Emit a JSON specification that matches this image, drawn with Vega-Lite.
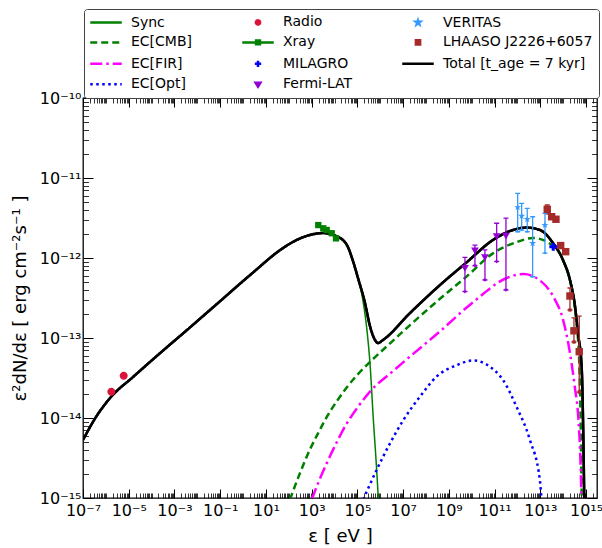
{
  "$schema": "https://vega.github.io/schema/vega-lite/v6.json",
  "width": 514,
  "height": 400,
  "autosize": {"type": "none"},
  "padding": {"left": 83, "top": 98, "right": 5, "bottom": 50},
  "background": "white",
  "config": {
    "font": "DejaVu Sans",
    "view": {"stroke": "black", "strokeWidth": 1.3},
    "axis": {"labelFont": "DejaVu Sans", "titleFont": "DejaVu Sans", "tickColor": "black", "labelColor": "black", "titleColor": "black", "grid": false, "domain": false, "titleFontWeight": "normal", "labelFlush": false, "labelOverlap": false}
  },
  "datasets": {
    "curves": [
      {"series": "Total [t_age = 7 kyr]", "E": 1e-7, "F": 5.31e-15},
      {"series": "Total [t_age = 7 kyr]", "E": 3.70e-7, "F": 1.03e-14},
      {"series": "Total [t_age = 7 kyr]", "E": 1.67e-6, "F": 1.83e-14},
      {"series": "Total [t_age = 7 kyr]", "E": 1.53e-5, "F": 3.25e-14},
      {"series": "Total [t_age = 7 kyr]", "E": 4.26e-4, "F": 7.50e-14},
      {"series": "Total [t_age = 7 kyr]", "E": 2.36e-3, "F": 1.14e-13},
      {"series": "Total [t_age = 7 kyr]", "E": 6.53e-2, "F": 2.60e-13},
      {"series": "Total [t_age = 7 kyr]", "E": 2.0, "F": 6.10e-13},
      {"series": "Total [t_age = 7 kyr]", "E": 55.6, "F": 1.33e-12},
      {"series": "Total [t_age = 7 kyr]", "E": 152, "F": 1.59e-12},
      {"series": "Total [t_age = 7 kyr]", "E": 843, "F": 1.94e-12},
      {"series": "Total [t_age = 7 kyr]", "E": 3120, "F": 2.05e-12},
      {"series": "Total [t_age = 7 kyr]", "E": 1.28e4, "F": 1.86e-12},
      {"series": "Total [t_age = 7 kyr]", "E": 3.49e4, "F": 1.45e-12},
      {"series": "Total [t_age = 7 kyr]", "E": 6.40e4, "F": 9.16e-13},
      {"series": "Total [t_age = 7 kyr]", "E": 1.06e5, "F": 5.62e-13},
      {"series": "Total [t_age = 7 kyr]", "E": 2.14e5, "F": 2.74e-13},
      {"series": "Total [t_age = 7 kyr]", "E": 3.54e5, "F": 1.41e-13},
      {"series": "Total [t_age = 7 kyr]", "E": 5.86e5, "F": 9.44e-14},
      {"series": "Total [t_age = 7 kyr]", "E": 7.93e5, "F": 8.65e-14},
      {"series": "Total [t_age = 7 kyr]", "E": 1.31e6, "F": 9.44e-14},
      {"series": "Total [t_age = 7 kyr]", "E": 1.99e7, "F": 2.05e-13},
      {"series": "Total [t_age = 7 kyr]", "E": 4.07e8, "F": 4.59e-13},
      {"series": "Total [t_age = 7 kyr]", "E": 6.18e9, "F": 8.91e-13},
      {"series": "Total [t_age = 7 kyr]", "E": 8.47e10, "F": 1.68e-12},
      {"series": "Total [t_age = 7 kyr]", "E": 6.34e11, "F": 2.24e-12},
      {"series": "Total [t_age = 7 kyr]", "E": 2.59e12, "F": 2.40e-12},
      {"series": "Total [t_age = 7 kyr]", "E": 9.61e12, "F": 2.24e-12},
      {"series": "Total [t_age = 7 kyr]", "E": 3.56e13, "F": 1.54e-12},
      {"series": "Total [t_age = 7 kyr]", "E": 9.75e13, "F": 9.44e-13},
      {"series": "Total [t_age = 7 kyr]", "E": 1.97e14, "F": 5.31e-13},
      {"series": "Total [t_age = 7 kyr]", "E": 3.27e14, "F": 2.51e-13},
      {"series": "Total [t_age = 7 kyr]", "E": 4.42e14, "F": 1.15e-13},
      {"series": "Total [t_age = 7 kyr]", "E": 6.40e14, "F": 4.34e-14},
      {"series": "Total [t_age = 7 kyr]", "E": 7.52e14, "F": 6.49e-15},
      {"series": "Total [t_age = 7 kyr]", "E": 8.32e14, "F": 9.44e-16},

      {"series": "Sync", "E": 1e-7, "F": 5.31e-15},
      {"series": "Sync", "E": 3.70e-7, "F": 1.03e-14},
      {"series": "Sync", "E": 1.67e-6, "F": 1.83e-14},
      {"series": "Sync", "E": 1.53e-5, "F": 3.25e-14},
      {"series": "Sync", "E": 4.26e-4, "F": 7.50e-14},
      {"series": "Sync", "E": 2.36e-3, "F": 1.14e-13},
      {"series": "Sync", "E": 6.53e-2, "F": 2.60e-13},
      {"series": "Sync", "E": 2.0, "F": 6.10e-13},
      {"series": "Sync", "E": 55.6, "F": 1.33e-12},
      {"series": "Sync", "E": 152, "F": 1.59e-12},
      {"series": "Sync", "E": 843, "F": 1.94e-12},
      {"series": "Sync", "E": 3120, "F": 2.05e-12},
      {"series": "Sync", "E": 1.28e4, "F": 1.86e-12},
      {"series": "Sync", "E": 3.49e4, "F": 1.45e-12},
      {"series": "Sync", "E": 6.40e4, "F": 9.16e-13},
      {"series": "Sync", "E": 1.06e5, "F": 5.62e-13},
      {"series": "Sync", "E": 1.58e5, "F": 3.45e-13},
      {"series": "Sync", "E": 2.14e5, "F": 2.0e-13},
      {"series": "Sync", "E": 2.75e5, "F": 1.09e-13},
      {"series": "Sync", "E": 3.54e5, "F": 4.87e-14},
      {"series": "Sync", "E": 4.93e5, "F": 1.0e-14},
      {"series": "Sync", "E": 6.95e5, "F": 2.24e-15},
      {"series": "Sync", "E": 8.34e5, "F": 9.1e-16},

      {"series": "EC[CMB]", "E": 112, "F": 9.55e-16},
      {"series": "EC[CMB]", "E": 316, "F": 2.09e-15},
      {"series": "EC[CMB]", "E": 851, "F": 4.07e-15},
      {"series": "EC[CMB]", "E": 1995, "F": 6.61e-15},
      {"series": "EC[CMB]", "E": 4467, "F": 1.02e-14},
      {"series": "EC[CMB]", "E": 1.26e4, "F": 1.62e-14},
      {"series": "EC[CMB]", "E": 3.39e4, "F": 2.40e-14},
      {"series": "EC[CMB]", "E": 1.0e5, "F": 3.47e-14},
      {"series": "EC[CMB]", "E": 3.55e5, "F": 5.01e-14},
      {"series": "EC[CMB]", "E": 3.72e6, "F": 9.33e-14},
      {"series": "EC[CMB]", "E": 2.0e7, "F": 1.45e-13},
      {"series": "EC[CMB]", "E": 4.07e8, "F": 3.09e-13},
      {"series": "EC[CMB]", "E": 6.03e9, "F": 5.89e-13},
      {"series": "EC[CMB]", "E": 8.71e10, "F": 1.15e-12},
      {"series": "EC[CMB]", "E": 9.12e11, "F": 1.58e-12},
      {"series": "EC[CMB]", "E": 4.90e12, "F": 1.78e-12},
      {"series": "EC[CMB]", "E": 2.63e13, "F": 1.51e-12},
      {"series": "EC[CMB]", "E": 1.0e14, "F": 9.33e-13},
      {"series": "EC[CMB]", "E": 2.34e14, "F": 4.17e-13},
      {"series": "EC[CMB]", "E": 3.80e14, "F": 1.55e-13},
      {"series": "EC[CMB]", "E": 5.01e14, "F": 5.01e-14},
      {"series": "EC[CMB]", "E": 5.75e14, "F": 1.0e-14},
      {"series": "EC[CMB]", "E": 6.17e14, "F": 2.51e-15},
      {"series": "EC[CMB]", "E": 6.46e14, "F": 9.55e-16},

      {"series": "EC[FIR]", "E": 1000, "F": 9.55e-16},
      {"series": "EC[FIR]", "E": 1995, "F": 1.58e-15},
      {"series": "EC[FIR]", "E": 4467, "F": 2.69e-15},
      {"series": "EC[FIR]", "E": 1.26e4, "F": 5.01e-15},
      {"series": "EC[FIR]", "E": 3.39e4, "F": 8.51e-15},
      {"series": "EC[FIR]", "E": 1.0e5, "F": 1.35e-14},
      {"series": "EC[FIR]", "E": 3.55e5, "F": 2.14e-14},
      {"series": "EC[FIR]", "E": 3.72e6, "F": 3.89e-14},
      {"series": "EC[FIR]", "E": 1.26e7, "F": 5.25e-14},
      {"series": "EC[FIR]", "E": 3.55e8, "F": 1.17e-13},
      {"series": "EC[FIR]", "E": 1.17e10, "F": 2.82e-13},
      {"series": "EC[FIR]", "E": 3.39e11, "F": 5.62e-13},
      {"series": "EC[FIR]", "E": 1.82e12, "F": 6.31e-13},
      {"series": "EC[FIR]", "E": 9.55e12, "F": 5.25e-13},
      {"series": "EC[FIR]", "E": 3.63e13, "F": 3.31e-13},
      {"series": "EC[FIR]", "E": 1.0e14, "F": 1.66e-13},
      {"series": "EC[FIR]", "E": 1.95e14, "F": 6.61e-14},
      {"series": "EC[FIR]", "E": 3.16e14, "F": 2.51e-14},
      {"series": "EC[FIR]", "E": 4.57e14, "F": 1.0e-14},
      {"series": "EC[FIR]", "E": 5.62e14, "F": 3.16e-15},
      {"series": "EC[FIR]", "E": 6.31e14, "F": 9.55e-16},

      {"series": "EC[Opt]", "E": 1.78e5, "F": 9.55e-16},
      {"series": "EC[Opt]", "E": 6.92e5, "F": 2.24e-15},
      {"series": "EC[Opt]", "E": 2.63e6, "F": 4.79e-15},
      {"series": "EC[Opt]", "E": 1.0e7, "F": 9.33e-15},
      {"series": "EC[Opt]", "E": 5.5e7, "F": 1.86e-14},
      {"series": "EC[Opt]", "E": 2.95e8, "F": 3.31e-14},
      {"series": "EC[Opt]", "E": 2.19e9, "F": 4.57e-14},
      {"series": "EC[Opt]", "E": 1.17e10, "F": 5.25e-14},
      {"series": "EC[Opt]", "E": 6.31e10, "F": 4.37e-14},
      {"series": "EC[Opt]", "E": 2.40e11, "F": 2.95e-14},
      {"series": "EC[Opt]", "E": 9.12e11, "F": 1.38e-14},
      {"series": "EC[Opt]", "E": 3.55e12, "F": 5.25e-15},
      {"series": "EC[Opt]", "E": 9.55e12, "F": 1.66e-15},
      {"series": "EC[Opt]", "E": 1.12e13, "F": 9.55e-16}
    ],
    "pts": [
      {"series": "Radio", "E": 1.73e-6, "F": 2.13e-14},
      {"series": "Radio", "E": 6.03e-6, "F": 3.38e-14},
      {"series": "Xray", "E": 1945, "F": 2.58e-12},
      {"series": "Xray", "E": 3214, "F": 2.35e-12},
      {"series": "Xray", "E": 4529, "F": 2.24e-12},
      {"series": "Xray", "E": 7499, "F": 2.04e-12},
      {"series": "Xray", "E": 11560, "F": 1.76e-12},
      {"series": "Fermi-LAT", "E": 5.05e9, "F": 7.43e-13},
      {"series": "Fermi-LAT", "E": 1.38e10, "F": 1.23e-12},
      {"series": "Fermi-LAT", "E": 3.78e10, "F": 1.01e-12},
      {"series": "Fermi-LAT", "E": 1.23e11, "F": 1.85e-12},
      {"series": "Fermi-LAT", "E": 3.13e11, "F": 1.88e-12},
      {"series": "VERITAS", "E": 1.02e12, "F": 4.30e-12},
      {"series": "VERITAS", "E": 1.52e12, "F": 3.35e-12},
      {"series": "VERITAS", "E": 2.67e12, "F": 3.05e-12},
      {"series": "VERITAS", "E": 4.60e12, "F": 1.53e-12},
      {"series": "VERITAS", "E": 1.59e13, "F": 2.58e-12},
      {"series": "MILAGRO", "E": 3.66e13, "F": 1.38e-12},
      {"series": "LHAASO J2226+6057", "E": 2.00e13, "F": 4.06e-12},
      {"series": "LHAASO J2226+6057", "E": 3.12e13, "F": 3.28e-12},
      {"series": "LHAASO J2226+6057", "E": 4.81e13, "F": 3.05e-12},
      {"series": "LHAASO J2226+6057", "E": 7.73e13, "F": 1.43e-12},
      {"series": "LHAASO J2226+6057", "E": 1.28e14, "F": 1.20e-12},
      {"series": "LHAASO J2226+6057", "E": 1.97e14, "F": 3.35e-13},
      {"series": "LHAASO J2226+6057", "E": 2.95e14, "F": 1.23e-13},
      {"series": "LHAASO J2226+6057", "E": 5.02e14, "F": 6.74e-14}
    ],
    "errs": [
      {"series": "Fermi-LAT", "E": 5.05e9, "lo": 3.79e-13, "hi": 1.02e-12},
      {"series": "Fermi-LAT", "E": 1.38e10, "lo": 8.0e-13, "hi": 1.45e-12},
      {"series": "Fermi-LAT", "E": 3.78e10, "lo": 5.31e-13, "hi": 1.26e-12},
      {"series": "Fermi-LAT", "E": 1.23e11, "lo": 8.99e-13, "hi": 2.72e-12},
      {"series": "Fermi-LAT", "E": 3.13e11, "lo": 3.98e-13, "hi": 3.16e-12},
      {"series": "VERITAS", "E": 1.02e12, "lo": 2.13e-12, "hi": 6.44e-12},
      {"series": "VERITAS", "E": 1.52e12, "lo": 2.24e-12, "hi": 4.83e-12},
      {"series": "VERITAS", "E": 2.67e12, "lo": 2.13e-12, "hi": 4.18e-12},
      {"series": "VERITAS", "E": 4.60e12, "lo": 5.83e-13, "hi": 3.28e-12},
      {"series": "VERITAS", "E": 1.59e13, "lo": 1.15e-12, "hi": 3.62e-12},
      {"series": "LHAASO J2226+6057", "E": 2.00e13, "lo": 3.65e-12, "hi": 4.60e-12},
      {"series": "LHAASO J2226+6057", "E": 1.97e14, "lo": 2.24e-13, "hi": 4.22e-13},
      {"series": "LHAASO J2226+6057", "E": 2.95e14, "lo": 8.91e-14, "hi": 1.78e-13},
      {"series": "LHAASO J2226+6057", "E": 5.02e14, "lo": 2.11e-14, "hi": 1.88e-13}
    ]
  },
  "encoding": {
    "x": {"field": "E", "type": "quantitative", "scale": {"type": "log", "domain": [1e-7, 3e15], "nice": false}, "axis": null},
    "y": {"field": "F", "type": "quantitative", "scale": {"type": "log", "domain": [1e-15, 1e-10], "nice": false}, "axis": null},
    "color": {
      "field": "series", "type": "nominal",
      "scale": {
        "domain": ["Sync", "EC[CMB]", "EC[FIR]", "EC[Opt]", "Radio", "Xray", "MILAGRO", "Fermi-LAT", "VERITAS", "LHAASO J2226+6057", "Total [t_age = 7 kyr]"],
        "range": ["#008000", "#008000", "#ff00ff", "#0000ff", "#dc143c", "#008000", "#0000ff", "#9400d3", "#3399ff", "#a52a2a", "#000000"]
      },
      "legend": {
        "title": null, "orient": "none", "legendX": 1, "legendY": -89, "direction": "vertical", "columns": 3,
        "columnPadding": 44, "rowPadding": 4.4, "padding": 6, "strokeColor": "#444444", "fillColor": "white", "cornerRadius": 3,
        "labelFont": "DejaVu Sans", "labelFontSize": 14, "labelColor": "black", "labelLimit": 300,
        "symbolSize": 49, "symbolStrokeWidth": 2.5, "symbolOffset": 9, "labelOffset": 18
      }
    },
    "shape": {
      "field": "series", "type": "nominal",
      "scale": {
        "domain": ["Sync", "EC[CMB]", "EC[FIR]", "EC[Opt]", "Radio", "Xray", "MILAGRO", "Fermi-LAT", "VERITAS", "LHAASO J2226+6057", "Total [t_age = 7 kyr]"],
        "range": ["M-4.5,0H4.5", "M-4.5,0H4.5", "M-4.5,0H4.5", "M-4.5,0H4.5",
          "M0.6,0A0.6,0.6,0,1,1,-0.6,0A0.6,0.6,0,1,1,0.6,0Z",
          "M-4.5,0H4.5M-0.55,-0.55H0.55V0.55H-0.55Z",
          "M-0.9,0H0.9M0,-0.9V0.9",
          "M-0.7,-0.45H0.7L0,0.7Z",
          "M0,-0.6L0.135,-0.19L0.57,-0.19L0.22,0.07L0.35,0.49L0,0.23L-0.35,0.49L-0.22,0.07L-0.57,-0.19L-0.135,-0.19Z",
          "M-0.6,-0.6H0.6V0.6H-0.6Z",
          "M-4.5,0H4.5"]
      },
      "legend": {
        "title": null, "orient": "none", "legendX": 1, "legendY": -89, "direction": "vertical", "columns": 3,
        "columnPadding": 44, "rowPadding": 4.4, "padding": 6, "strokeColor": "#444444", "fillColor": "white", "cornerRadius": 3,
        "labelFont": "DejaVu Sans", "labelFontSize": 14, "labelColor": "black", "labelLimit": 300,
        "symbolSize": 49, "symbolStrokeWidth": 2.5, "symbolOffset": 9, "labelOffset": 18
      }
    },
    "strokeDash": {
      "field": "series", "type": "nominal",
      "scale": {
        "domain": ["Sync", "EC[CMB]", "EC[FIR]", "EC[Opt]", "Radio", "Xray", "MILAGRO", "Fermi-LAT", "VERITAS", "LHAASO J2226+6057", "Total [t_age = 7 kyr]"],
        "range": [[1, 0], [7, 4], [12, 4, 2.5, 4], [2.5, 3.5], [1, 0], [1, 0], [1, 0], [1, 0], [1, 0], [1, 0], [1, 0]]
      },
      "legend": {
        "title": null, "orient": "none", "legendX": 1, "legendY": -89, "direction": "vertical", "columns": 3,
        "columnPadding": 44, "rowPadding": 4.4, "padding": 6, "strokeColor": "#444444", "fillColor": "white", "cornerRadius": 3,
        "labelFont": "DejaVu Sans", "labelFontSize": 14, "labelColor": "black", "labelLimit": 300,
        "symbolSize": 49, "symbolStrokeWidth": 2.5, "symbolOffset": 9, "labelOffset": 18
      }
    }
  },
  "resolve": {"axis": {"x": "independent", "y": "independent"}},
  "layer": [
    {
      "data": {"name": "curves"},
      "transform": [{"filter": "datum.series == 'Total [t_age = 7 kyr]'"}],
      "mark": {"type": "line", "strokeWidth": 2.5, "clip": true, "interpolate": "monotone"},
      "encoding": {
        "x": {"field": "E", "type": "quantitative", "scale": {"type": "log", "domain": [1e-7, 3e15], "nice": false},
          "axis": {"orient": "bottom", "values": [1e-7, 1e-5, 1e-3, 1e-1, 1e1, 1e3, 1e5, 1e7, 1e9, 1e11, 1e13, 1e15], "tickSize": -9, "tickWidth": 1, "labelFontSize": 16, "labelPadding": 13,
            "labelExpr": "'10' + replace(replace(replace(replace(replace(replace(replace(replace(replace(replace(replace('' + round(log(datum.value) / LN10), '-', '⁻'), regexp('0', 'g'), '⁰'), regexp('1', 'g'), '¹'), regexp('2', 'g'), '²'), regexp('3', 'g'), '³'), regexp('4', 'g'), '⁴'), regexp('5', 'g'), '⁵'), regexp('6', 'g'), '⁶'), regexp('7', 'g'), '⁷'), regexp('8', 'g'), '⁸'), regexp('9', 'g'), '⁹')",
            "title": "ε [ eV ]", "titleFontSize": 18, "titlePadding": 9}},
        "y": {"field": "F", "type": "quantitative", "scale": {"type": "log", "domain": [1e-15, 1e-10], "nice": false},
          "axis": {"orient": "left", "values": [1e-15, 1e-14, 1e-13, 1e-12, 1e-11, 1e-10], "tickSize": -10, "tickWidth": 1, "labelFontSize": 16, "labelPadding": 12,
            "labelExpr": "'10' + replace(replace(replace(replace(replace(replace(replace(replace(replace(replace(replace('' + round(log(datum.value) / LN10), '-', '⁻'), regexp('0', 'g'), '⁰'), regexp('1', 'g'), '¹'), regexp('2', 'g'), '²'), regexp('3', 'g'), '³'), regexp('4', 'g'), '⁴'), regexp('5', 'g'), '⁵'), regexp('6', 'g'), '⁶'), regexp('7', 'g'), '⁷'), regexp('8', 'g'), '⁸'), regexp('9', 'g'), '⁹')",
            "title": "ε²dN/dε [ erg cm⁻²s⁻¹ ]", "titleFontSize": 18, "titlePadding": 10}}
      }
    },
    {
      "data": {"name": "curves"},
      "transform": [{"filter": "datum.series == 'Sync'"}],
      "mark": {"type": "line", "strokeWidth": 1.5, "clip": true, "interpolate": "monotone"},
      "encoding": {
        "x": {"field": "E", "type": "quantitative", "scale": {"type": "log", "domain": [1e-7, 3e15], "nice": false},
          "axis": {"orient": "bottom", "labels": false, "title": null, "tickSize": -5, "tickWidth": 0.8,
            "values": [2e-7,3e-7,4e-7,5e-7,6e-7,7e-7,8e-7,9e-7,1e-6,2e-6,3e-6,4e-6,5e-6,6e-6,7e-6,8e-6,9e-6,2e-5,3e-5,4e-5,5e-5,6e-5,7e-5,8e-5,9e-5,1e-4,2e-4,3e-4,4e-4,5e-4,6e-4,7e-4,8e-4,9e-4,2e-3,3e-3,4e-3,5e-3,6e-3,7e-3,8e-3,9e-3,1e-2,2e-2,3e-2,4e-2,5e-2,6e-2,7e-2,8e-2,9e-2,0.2,0.3,0.4,0.5,0.6,0.7,0.8,0.9,1,2,3,4,5,6,7,8,9,20,30,40,50,60,70,80,90,100,200,300,400,500,600,700,800,900,2e3,3e3,4e3,5e3,6e3,7e3,8e3,9e3,1e4,2e4,3e4,4e4,5e4,6e4,7e4,8e4,9e4,2e5,3e5,4e5,5e5,6e5,7e5,8e5,9e5,1e6,2e6,3e6,4e6,5e6,6e6,7e6,8e6,9e6,2e7,3e7,4e7,5e7,6e7,7e7,8e7,9e7,1e8,2e8,3e8,4e8,5e8,6e8,7e8,8e8,9e8,2e9,3e9,4e9,5e9,6e9,7e9,8e9,9e9,1e10,2e10,3e10,4e10,5e10,6e10,7e10,8e10,9e10,2e11,3e11,4e11,5e11,6e11,7e11,8e11,9e11,1e12,2e12,3e12,4e12,5e12,6e12,7e12,8e12,9e12,2e13,3e13,4e13,5e13,6e13,7e13,8e13,9e13,1e14,2e14,3e14,4e14,5e14,6e14,7e14,8e14,9e14,2e15]}},
        "y": {"field": "F", "type": "quantitative", "scale": {"type": "log", "domain": [1e-15, 1e-10], "nice": false},
          "axis": {"orient": "left", "labels": false, "title": null, "tickSize": -5.5, "tickWidth": 0.8,
            "values": [2e-15,3e-15,4e-15,5e-15,6e-15,7e-15,8e-15,9e-15,2e-14,3e-14,4e-14,5e-14,6e-14,7e-14,8e-14,9e-14,2e-13,3e-13,4e-13,5e-13,6e-13,7e-13,8e-13,9e-13,2e-12,3e-12,4e-12,5e-12,6e-12,7e-12,8e-12,9e-12,2e-11,3e-11,4e-11,5e-11,6e-11,7e-11,8e-11,9e-11]}}
      }
    },
    {
      "data": {"name": "curves"},
      "transform": [{"filter": "datum.series == 'EC[CMB]'"}],
      "mark": {"type": "line", "strokeWidth": 2.5, "clip": true, "interpolate": "monotone"},
      "encoding": {
        "x": {"field": "E", "type": "quantitative", "scale": {"type": "log", "domain": [1e-7, 3e15], "nice": false},
          "axis": {"orient": "top", "labels": false, "title": null, "tickSize": -9, "tickWidth": 1, "values": [1e-7, 1e-5, 1e-3, 1e-1, 1e1, 1e3, 1e5, 1e7, 1e9, 1e11, 1e13, 1e15]}},
        "y": {"field": "F", "type": "quantitative", "scale": {"type": "log", "domain": [1e-15, 1e-10], "nice": false},
          "axis": {"orient": "right", "labels": false, "title": null, "tickSize": -10, "tickWidth": 1, "values": [1e-15, 1e-14, 1e-13, 1e-12, 1e-11, 1e-10]}}
      }
    },
    {
      "data": {"name": "curves"},
      "transform": [{"filter": "datum.series == 'EC[FIR]'"}],
      "mark": {"type": "line", "strokeWidth": 2.5, "clip": true, "interpolate": "monotone"},
      "encoding": {
        "x": {"field": "E", "type": "quantitative", "scale": {"type": "log", "domain": [1e-7, 3e15], "nice": false},
          "axis": {"orient": "top", "labels": false, "title": null, "tickSize": -5, "tickWidth": 0.8,
            "values": [2e-7,3e-7,4e-7,5e-7,6e-7,7e-7,8e-7,9e-7,1e-6,2e-6,3e-6,4e-6,5e-6,6e-6,7e-6,8e-6,9e-6,2e-5,3e-5,4e-5,5e-5,6e-5,7e-5,8e-5,9e-5,1e-4,2e-4,3e-4,4e-4,5e-4,6e-4,7e-4,8e-4,9e-4,2e-3,3e-3,4e-3,5e-3,6e-3,7e-3,8e-3,9e-3,1e-2,2e-2,3e-2,4e-2,5e-2,6e-2,7e-2,8e-2,9e-2,0.2,0.3,0.4,0.5,0.6,0.7,0.8,0.9,1,2,3,4,5,6,7,8,9,20,30,40,50,60,70,80,90,100,200,300,400,500,600,700,800,900,2e3,3e3,4e3,5e3,6e3,7e3,8e3,9e3,1e4,2e4,3e4,4e4,5e4,6e4,7e4,8e4,9e4,2e5,3e5,4e5,5e5,6e5,7e5,8e5,9e5,1e6,2e6,3e6,4e6,5e6,6e6,7e6,8e6,9e6,2e7,3e7,4e7,5e7,6e7,7e7,8e7,9e7,1e8,2e8,3e8,4e8,5e8,6e8,7e8,8e8,9e8,2e9,3e9,4e9,5e9,6e9,7e9,8e9,9e9,1e10,2e10,3e10,4e10,5e10,6e10,7e10,8e10,9e10,2e11,3e11,4e11,5e11,6e11,7e11,8e11,9e11,1e12,2e12,3e12,4e12,5e12,6e12,7e12,8e12,9e12,2e13,3e13,4e13,5e13,6e13,7e13,8e13,9e13,1e14,2e14,3e14,4e14,5e14,6e14,7e14,8e14,9e14,2e15]}},
        "y": {"field": "F", "type": "quantitative", "scale": {"type": "log", "domain": [1e-15, 1e-10], "nice": false},
          "axis": {"orient": "right", "labels": false, "title": null, "tickSize": -5.5, "tickWidth": 0.8,
            "values": [2e-15,3e-15,4e-15,5e-15,6e-15,7e-15,8e-15,9e-15,2e-14,3e-14,4e-14,5e-14,6e-14,7e-14,8e-14,9e-14,2e-13,3e-13,4e-13,5e-13,6e-13,7e-13,8e-13,9e-13,2e-12,3e-12,4e-12,5e-12,6e-12,7e-12,8e-12,9e-12,2e-11,3e-11,4e-11,5e-11,6e-11,7e-11,8e-11,9e-11]}}
      }
    },
    {
      "data": {"name": "curves"},
      "transform": [{"filter": "datum.series == 'EC[Opt]'"}],
      "mark": {"type": "line", "strokeWidth": 2.5, "clip": true, "interpolate": "monotone"}
    },
    {
      "data": {"name": "curves"},
      "transform": [{"filter": "datum.series == 'Total [t_age = 7 kyr]'"}],
      "mark": {"type": "line", "strokeWidth": 2.5, "clip": true, "interpolate": "monotone"}
    },
    {
      "data": {"name": "pts"},
      "transform": [{"filter": "datum.series == 'Xray'"}],
      "mark": {"type": "line", "strokeWidth": 1.2, "clip": true}
    },
    {
      "data": {"name": "errs"},
      "mark": {"type": "rule", "strokeWidth": 1.3, "clip": true},
      "encoding": {
        "y": {"field": "lo", "type": "quantitative", "scale": {"type": "log", "domain": [1e-15, 1e-10], "nice": false}, "axis": null},
        "y2": {"field": "hi"}
      }
    },
    {
      "data": {"name": "errs"},
      "mark": {"type": "point", "size": 25, "strokeWidth": 1.3, "filled": false, "opacity": 1, "clip": true},
      "encoding": {
        "y": {"field": "lo", "type": "quantitative", "scale": {"type": "log", "domain": [1e-15, 1e-10], "nice": false}, "axis": null},
        "shape": {"value": "stroke"}
      }
    },
    {
      "data": {"name": "errs"},
      "mark": {"type": "point", "size": 25, "strokeWidth": 1.3, "filled": false, "opacity": 1, "clip": true},
      "encoding": {
        "y": {"field": "hi", "type": "quantitative", "scale": {"type": "log", "domain": [1e-15, 1e-10], "nice": false}, "axis": null},
        "shape": {"value": "stroke"}
      }
    },
    {
      "data": {"name": "pts"},
      "transform": [{"filter": "datum.series == 'Radio'"}],
      "mark": {"type": "point", "filled": true, "size": 178, "opacity": 1}
    },
    {
      "data": {"name": "pts"},
      "transform": [{"filter": "datum.series == 'Xray'"}],
      "mark": {"type": "point", "filled": true, "size": 40, "opacity": 1},
      "encoding": {"shape": {"value": "square"}}
    },
    {
      "data": {"name": "pts"},
      "transform": [{"filter": "datum.series == 'Fermi-LAT'"}],
      "mark": {"type": "point", "filled": true, "size": 60, "opacity": 1},
      "encoding": {"shape": {"value": "triangle-down"}}
    },
    {
      "data": {"name": "pts"},
      "transform": [{"filter": "datum.series == 'VERITAS'"}],
      "mark": {"type": "point", "filled": true, "size": 55, "opacity": 1},
      "encoding": {"shape": {"value": "M0,-1L0.2245,-0.309L0.951,-0.309L0.363,0.118L0.588,0.809L0,0.382L-0.588,0.809L-0.363,0.118L-0.951,-0.309L-0.2245,-0.309Z"}}
    },
    {
      "data": {"name": "pts"},
      "transform": [{"filter": "datum.series == 'MILAGRO'"}],
      "mark": {"type": "point", "filled": true, "size": 60, "opacity": 1},
      "encoding": {"shape": {"value": "cross"}}
    },
    {
      "data": {"name": "pts"},
      "transform": [{"filter": "datum.series == 'LHAASO J2226+6057'"}],
      "mark": {"type": "point", "filled": true, "size": 55, "opacity": 1},
      "encoding": {"shape": {"value": "square"}}
    }
  ]
}
